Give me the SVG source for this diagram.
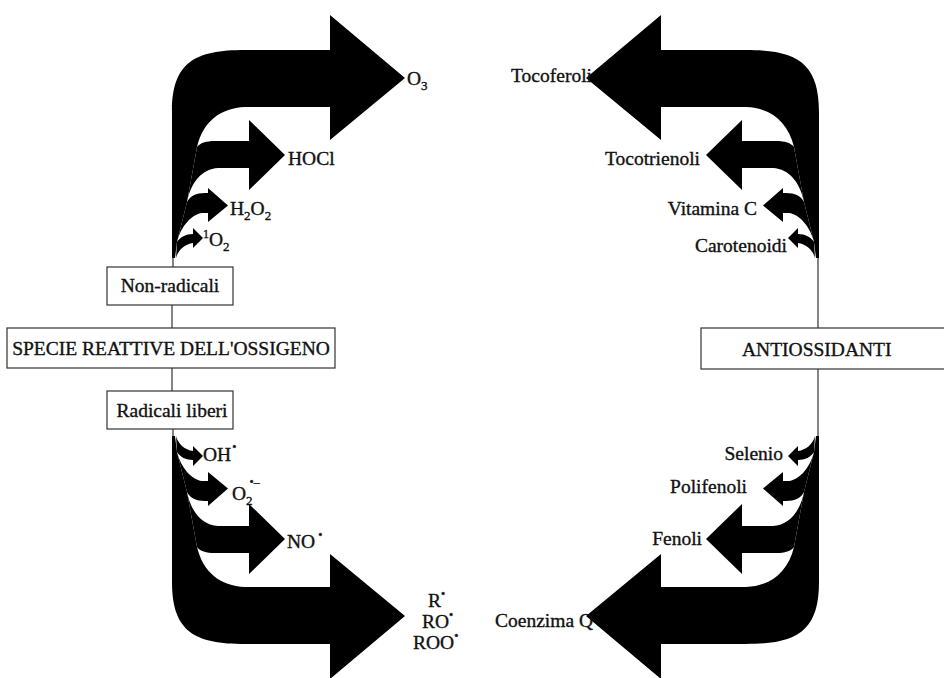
<svg xmlns="http://www.w3.org/2000/svg" width="944" height="678" viewBox="0 0 944 678">
<style>
.t{font-family:"Liberation Serif","Times New Roman",serif;font-size:19.5px;fill:#111;stroke:#111;stroke-width:0.35}
.e{text-anchor:end}
.m{text-anchor:middle}
.box{fill:#fff;stroke:#333;stroke-width:1.2}
.ln{stroke:#333;stroke-width:1.2;fill:none}
.arr{fill:#000}
.sub{font-size:13px}
.sup{font-size:12px}
</style>
<defs>
<path id="a1" d="M172,258 L172,112 C172,62 195,50 245,50 L330,50 L330,15 L405,78 L330,140 L330,107 L245,107 C220,108 203,122 197,147 L187,202 L177,242 L175,258 Z"/>
<path id="a2" d="M197,147 C200,143 206,141 215,141 L249,141 L249,120 L285,155 L249,190 L249,168 L218,168 C202,169 191,182 187,202 Z"/>
<path id="a3" d="M187,202 C190,196 196,193 205,193 L208,193 L208,188 L228,205.5 L208,222 L208,213 L202,213 C192,214 181,226 177,242 Z"/>
<path id="a4" d="M177,242 C180,237 186,234 193,234 L193,228 L203,238 L193,248 L193,243 C185,244 178,250 176,258 Z"/>
</defs>
<g id="connectors">
  <line class="ln" x1="173" y1="256" x2="173" y2="267"/>
  <line class="ln" x1="172" y1="305" x2="172" y2="328"/>
  <line class="ln" x1="172" y1="368" x2="172" y2="391"/>
  <line class="ln" x1="173" y1="429" x2="173" y2="438"/>
  <line class="ln" x1="818" y1="256" x2="818" y2="328"/>
  <line class="ln" x1="818" y1="369" x2="818" y2="438"/>
  <use id="arr-o3" class="arr" href="#a1"/>
  <use id="arr-hocl" class="arr" href="#a2"/>
  <use id="arr-h2o2" class="arr" href="#a3"/>
  <use id="arr-1o2" class="arr" href="#a4"/>
  <use id="arr-roo" class="arr" href="#a1" transform="matrix(1 0 0 -1 0 694)"/>
  <use id="arr-no" class="arr" href="#a2" transform="matrix(1 0 0 -1 0 694)"/>
  <use id="arr-o2rad" class="arr" href="#a3" transform="matrix(1 0 0 -1 0 694)"/>
  <use id="arr-oh" class="arr" href="#a4" transform="matrix(1 0 0 -1 0 694)"/>
  <use id="arr-tocoferoli" class="arr" href="#a1" transform="matrix(-1 0 0 1 991 0)"/>
  <use id="arr-tocotrienoli" class="arr" href="#a2" transform="matrix(-1 0 0 1 991 0)"/>
  <use id="arr-vitc" class="arr" href="#a3" transform="matrix(-1 0 0 1 991 0)"/>
  <use id="arr-carotenoidi" class="arr" href="#a4" transform="matrix(-1 0 0 1 991 0)"/>
  <use id="arr-coenzima" class="arr" href="#a1" transform="matrix(-1 0 0 -1 991 694)"/>
  <use id="arr-fenoli" class="arr" href="#a2" transform="matrix(-1 0 0 -1 991 694)"/>
  <use id="arr-polifenoli" class="arr" href="#a3" transform="matrix(-1 0 0 -1 991 694)"/>
  <use id="arr-selenio" class="arr" href="#a4" transform="matrix(-1 0 0 -1 991 694)"/>
</g>
<g id="n-nonradicali"><rect class="box" x="107" y="267" width="126" height="38"/><text class="t m" x="170" y="292">Non-radicali</text></g>
<g id="n-specie"><rect class="box" x="7" y="328" width="328" height="40"/><text class="t m" x="171" y="355">SPECIE REATTIVE DELL'OSSIGENO</text></g>
<g id="n-radicali"><rect class="box" x="107" y="391" width="126" height="38"/><text class="t m" x="172" y="417">Radicali liberi</text></g>
<g id="n-antiossidanti"><rect class="box" x="701" y="328" width="260" height="41"/><text class="t" x="742" y="356">ANTIOSSIDANTI</text></g>
<g id="n-o3"><text class="t" x="407" y="85">O<tspan class="sub" dy="5">3</tspan></text></g>
<g id="n-hocl"><text class="t" x="288" y="165">HOCl</text></g>
<g id="n-h2o2"><text class="t" x="230" y="215">H<tspan class="sub" dy="5">2</tspan><tspan dy="-5">O</tspan><tspan class="sub" dy="5">2</tspan></text></g>
<g id="n-1o2"><text class="t" x="203" y="246"><tspan class="sup" dy="-8">1</tspan><tspan dy="8">O</tspan><tspan class="sub" dy="5">2</tspan></text></g>
<g id="n-oh"><text class="t" x="203" y="461">OH<tspan class="sup" dx="1" dy="-10">•</tspan></text></g>
<g id="n-o2rad"><text class="t" x="232" y="500">O<tspan class="sub" dy="5">2</tspan><tspan class="sup" dx="-3" dy="-19">•–</tspan></text></g>
<g id="n-no"><text class="t" x="287" y="548">NO<tspan class="sup" dx="3" dy="-9">•</tspan></text></g>
<g id="n-r"><text class="t" x="428" y="607">R<tspan class="sup" dy="-9">•</tspan></text><text class="t" x="422" y="628">RO<tspan class="sup" dy="-9">•</tspan></text><text class="t" x="413" y="649">ROO<tspan class="sup" dy="-9">•</tspan></text></g>
<g id="n-tocoferoli"><text class="t e" x="592" y="82">Tocoferoli</text></g>
<g id="n-tocotrienoli"><text class="t e" x="700" y="165">Tocotrienoli</text></g>
<g id="n-vitc"><text class="t e" x="757" y="215">Vitamina C</text></g>
<g id="n-carotenoidi"><text class="t e" x="787" y="252">Carotenoidi</text></g>
<g id="n-selenio"><text class="t e" x="783" y="460">Selenio</text></g>
<g id="n-polifenoli"><text class="t e" x="747" y="493">Polifenoli</text></g>
<g id="n-fenoli"><text class="t e" x="702" y="545">Fenoli</text></g>
<g id="n-coenzima"><text class="t e" x="593" y="627">Coenzima Q</text></g>
</svg>
